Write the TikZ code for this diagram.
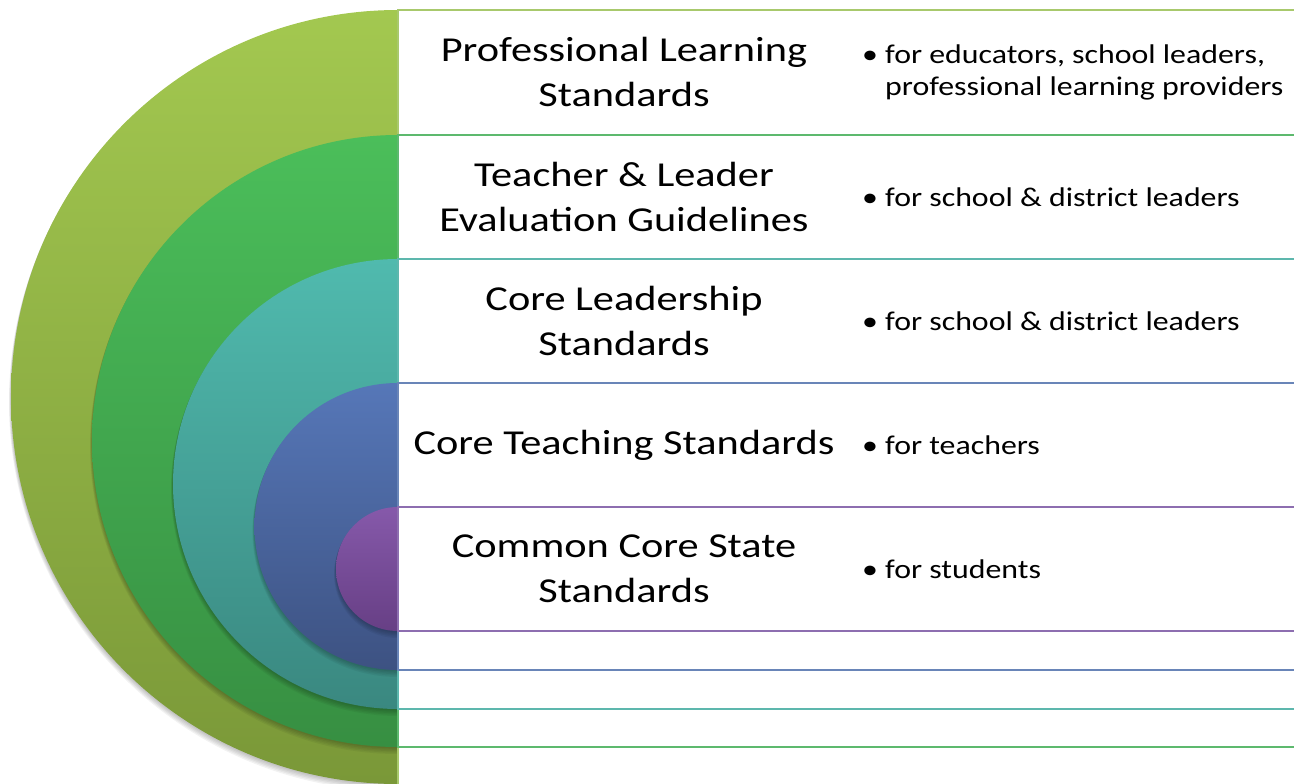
\documentclass[tikz,border=0pt]{standalone}
\usepackage{fontspec}
\setmainfont{Carlito}
\newfontfamily\titlefont{Carlito}[FakeStretch=1.21]
\newfontfamily\descfont{Carlito}[FakeStretch=1.18]
\definecolor{gAt}{HTML}{A3C850}
\definecolor{gAb}{HTML}{7A9838}
\definecolor{gAl}{HTML}{A8C96C}
\definecolor{gBt}{HTML}{4BBE5A}
\definecolor{gBb}{HTML}{378F42}
\definecolor{gBl}{HTML}{5DB96E}
\definecolor{tCt}{HTML}{50BAAE}
\definecolor{tCb}{HTML}{3A8880}
\definecolor{tCl}{HTML}{5DB7AD}
\definecolor{bDt}{HTML}{5677B8}
\definecolor{bDb}{HTML}{3D5282}
\definecolor{bDl}{HTML}{6985B8}
\definecolor{pEt}{HTML}{8659AA}
\definecolor{pEb}{HTML}{673F85}
\definecolor{pEl}{HTML}{8D6EB0}
\newcommand\myhalfdisc[4]{%
  \foreach \k in {1,...,5}{
    \fill[black,opacity=0.05] (398,{#1+#2+1.4*\k}) arc[start angle=90,end angle=270,radius={#2+0.4*\k}] -- cycle;
  }
  \shade[top color=#3,bottom color=#4] (398,{#1+#2}) arc[start angle=90,end angle=270,radius=#2] -- cycle;
}
\newcommand\mybul{\makebox[23pt][l]{•}}
\tikzset{
  titletext/.style={font=\titlefont\fontsize{35}{45}\selectfont, align=center, text=black, inner sep=0pt},
  desctext/.style={font=\descfont\fontsize{27}{32}\selectfont, anchor=west, inner sep=0pt, text=black},
  band/.style={fill=white, line width=2pt},
}
\begin{document}
\begin{tikzpicture}[x=1pt,y=-1pt]
\useasboundingbox (0,0) rectangle (1294,784);
% half discs
\myhalfdisc{397}{387}{gAt}{gAb}
\myhalfdisc{441}{306}{gBt}{gBb}
\myhalfdisc{484}{225}{tCt}{tCb}
\myhalfdisc{526.5}{143.5}{bDt}{bDb}
\myhalfdisc{569}{62}{pEt}{pEb}
% bands
\draw[band,draw=gAl] (1300,10) -- (398,10) -- (398,790) -- (1300,790);
\draw[band,draw=gBl] (1300,135) -- (398,135) -- (398,747) -- (1300,747);
\draw[band,draw=tCl] (1300,259) -- (398,259) -- (398,709) -- (1300,709);
\draw[band,draw=bDl] (1300,383) -- (398,383) -- (398,670) -- (1300,670);
\draw[band,draw=pEl] (1300,507) -- (398,507) -- (398,631) -- (1300,631);
% titles
\node[titletext] (t1) at (624,72) {Professional Learning\\Standards};
\node[titletext] (t2) at (624,197) {Teacher \& Leader\\Evaluation Guidelines};
\node[titletext] (t3) at (624,321) {Core Leadership\\Standards};
\node[titletext] (t4) at (624,445) {Core Teaching Standards};
\node[titletext] (t5) at (624,569) {Common Core State\\Standards};
% descriptions
\node[desctext] (d1) at (862,73) {\mybul\begin{tabular}[t]{@{}l@{}}for educators, school leaders,\\professional learning providers\end{tabular}};
\node[desctext] (d2) at (862,197) {\mybul for school \& district leaders};
\node[desctext] (d3) at (862,321) {\mybul for school \& district leaders};
\node[desctext] (d4) at (862,445) {\mybul for teachers};
\node[desctext] (d5) at (862,569) {\mybul for students};
\end{tikzpicture}
\end{document}
